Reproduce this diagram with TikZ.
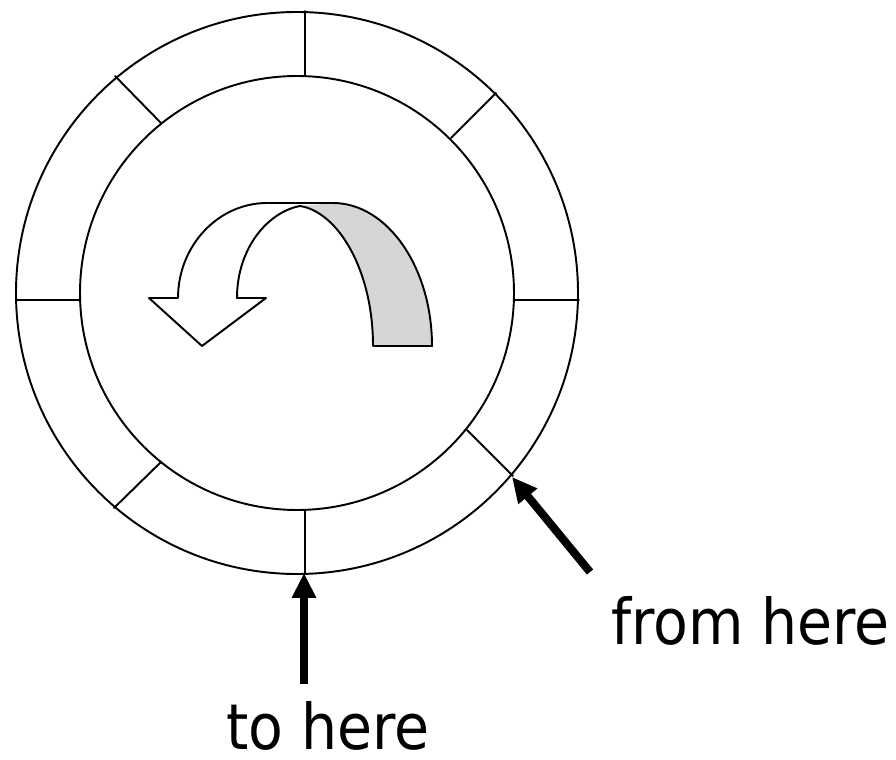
\documentclass[tikz,border=0pt]{standalone}
\usepackage{fontspec}
\setmainfont{DejaVu Sans Condensed}
\usetikzlibrary{arrows.meta}
\definecolor{foldgray}{RGB}{214,214,214}

\begin{document}
\begin{tikzpicture}[x=0.02cm, y=-0.02cm, line cap=round, line join=round,
    ring/.style={line width=1.1pt},
    pointer/.style={line width=4.6pt, line cap=butt, -{Triangle[length=0.5cm, width=0.46cm]}},
    notetext/.style={font=\fontsize{36}{42}\selectfont, inner sep=0pt, text depth=0pt, anchor=base west}]

  \useasboundingbox (0,0) rectangle (896,760);

  % parameters (pixel grid of the page, y downwards)
  \def\cx{297}     % centre of both rings
  \def\cy{293}
  \def\rOut{281}   % outer ring radius
  \def\rIn{217}    % inner ring radius

  % the two rings
  \draw[ring] (\cx,\cy) circle[radius=\rOut];
  \draw[ring] (\cx,\cy) circle[radius=\rIn];

  % the eight slot borders between the rings
  \foreach \xa/\ya/\xb/\yb in {305/11/305/75, 496/93/451/138, 515/300/579/300,
      467/430/513/476, 305/510/305/574, 161/462/114/508, 16/300/80/300, 115/76/161/123}
    \draw[ring] (\xa,\ya) -- (\xb,\yb);

  % turning arrow: shaded back face first
  \fill[foldgray] (300,206) -- (333,203) .. controls (387,203) and (432,267) .. (432,346)
    -- (373,346) .. controls (373,270) and (338,212) .. (300,206) -- cycle;

  % turning arrow: outline
  \draw[ring] (300,206) .. controls (268,212) and (237,248) .. (237,298)
    -- (266,298) -- (202,346) -- (149,298) -- (178,298)
    .. controls (178,246) and (218,203) .. (267,203) -- (333,203)
    .. controls (387,203) and (432,267) .. (432,346) -- (373,346)
    .. controls (373,270) and (338,212) .. (300,206);

  % pointers and their texts
  \coordinate (toTail) at (304,684);
  \coordinate (toTip) at (304,573);
  \coordinate (fromTail) at (590,572);
  \coordinate (fromTip) at (512,477);

  \draw[pointer] (toTail) -- (toTip);
  \draw[pointer] (fromTail) -- (fromTip);

  \node[notetext] (fromText) at (611,644) {from here};
  \node[notetext] (toText) at (226,749) {to here};

\end{tikzpicture}
\end{document}
